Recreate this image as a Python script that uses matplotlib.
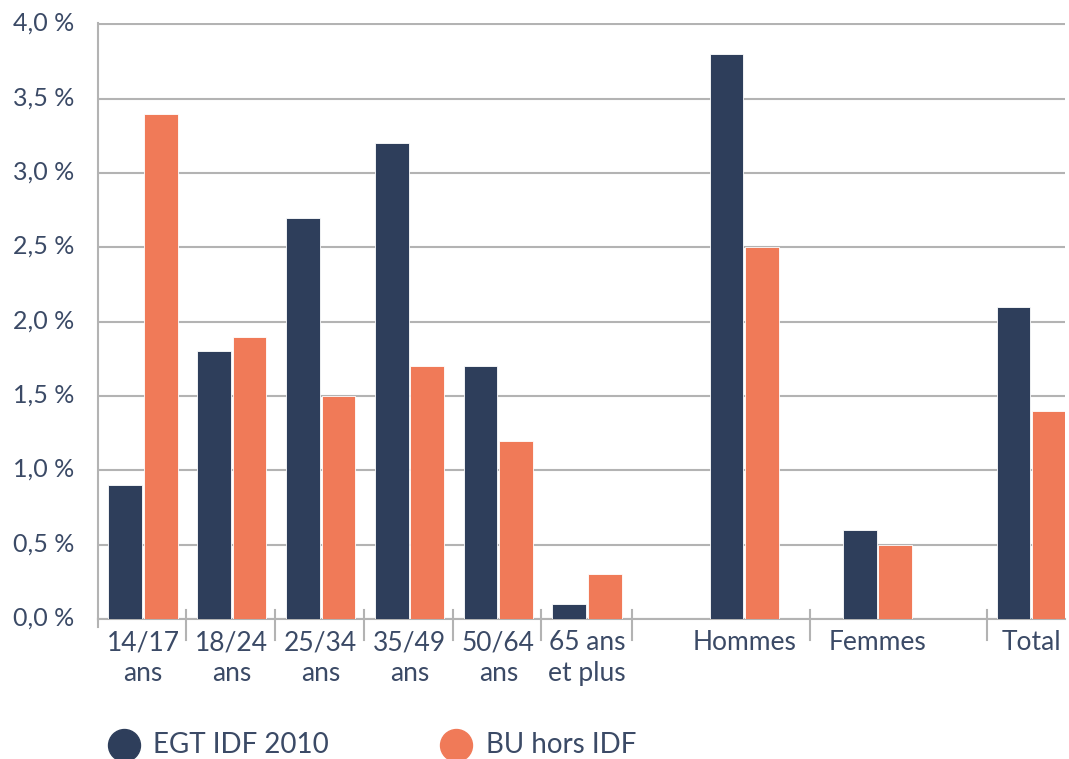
import numpy as np
import matplotlib.pyplot as plt
import matplotlib.transforms as mtransforms
from matplotlib.lines import Line2D

# données
categories = ["14/17\nans", "18/24\nans", "25/34\nans", "35/49\nans", "50/64\nans",
              "65 ans\net plus", "Hommes", "Femmes", "Total"]
egt_idf_2010 = [0.9, 1.8, 2.7, 3.2, 1.7, 0.1, 3.8, 0.6, 2.1]
bu_hors_idf = [3.4, 1.9, 1.5, 1.7, 1.2, 0.3, 2.5, 0.5, 1.4]
yticks = [0.0, 0.5, 1.0, 1.5, 2.0, 2.5, 3.0, 3.5, 4.0]

# mise en page (positions des groupes, séparateurs)
pos = np.array([0, 1, 2, 3, 4, 5, 6.77, 8.27, 10.0])
seps = [0.48, 1.49, 2.49, 3.49, 4.48, 5.5, 7.51, 9.5]

c_dark = "#2e3e5b"
c_orange = "#f07a58"
c_text = "#3b4a66"
c_grid = "#b3b3b3"

plt.rcParams['font.family'] = ['Lato', 'DejaVu Sans']

fig = plt.figure(figsize=(10.69, 7.59), dpi=100)
W, H = 1069, 759
ax = fig.add_axes([98 / W, 1 - 619 / H, (1065 - 98) / W, (619 - 23) / H])

w = 0.38
ax.bar(pos - 0.2, egt_idf_2010, w, color=c_dark, edgecolor="white", linewidth=0.6, zorder=3)
ax.bar(pos + 0.2, bu_hors_idf, w, color=c_orange, edgecolor="white", linewidth=0.6, zorder=3)

ax.set_xlim(-0.507, 10.38)
ax.set_ylim(0, 4.01)
ax.set_yticks(yticks)
ax.set_yticklabels([("%.1f %%" % v).replace(".", ",") for v in yticks],
                   fontsize=18, color=c_text, va="center_baseline")
ax.yaxis.grid(True, color=c_grid, linewidth=1.5, zorder=0)
ax.tick_params(axis="y", length=0, pad=17)
# labels y un peu au-dessus de la ligne
shift = mtransforms.ScaledTranslation(0, 3 / 100, fig.dpi_scale_trans)
for lbl in ax.get_yticklabels():
    lbl.set_transform(lbl.get_transform() + shift)

ax.set_xticks(pos)
ax.set_xticklabels(categories, fontsize=19, color=c_text, linespacing=1.3)
ax.tick_params(axis="x", length=0, pad=8)

for s in ["top", "right"]:
    ax.spines[s].set_visible(False)
for s in ["left", "bottom"]:
    ax.spines[s].set_color(c_grid)
    ax.spines[s].set_linewidth(1.5)

# séparateurs de groupes
trans = ax.get_xaxis_transform()
for sx in seps:
    ax.plot([sx, sx], [0.015, -0.035], color=c_grid, lw=1.5, transform=trans, clip_on=False)
ax.plot([-0.507, -0.507], [0, -0.013], color=c_grid, lw=1.5, transform=trans, clip_on=False)

# légende
ly = 1 - 745 / H
for cx, tx, col, lab in [(124, 153, c_dark, "EGT IDF 2010"), (456, 486, c_orange, "BU hors IDF")]:
    fig.add_artist(Line2D([cx / W], [ly], marker="o", markersize=23, color=col,
                          linestyle="none", transform=fig.transFigure))
    fig.text(tx / W, ly, lab, fontsize=20, color=c_text, va="center", ha="left")

fig.savefig("out.png", dpi=100)
